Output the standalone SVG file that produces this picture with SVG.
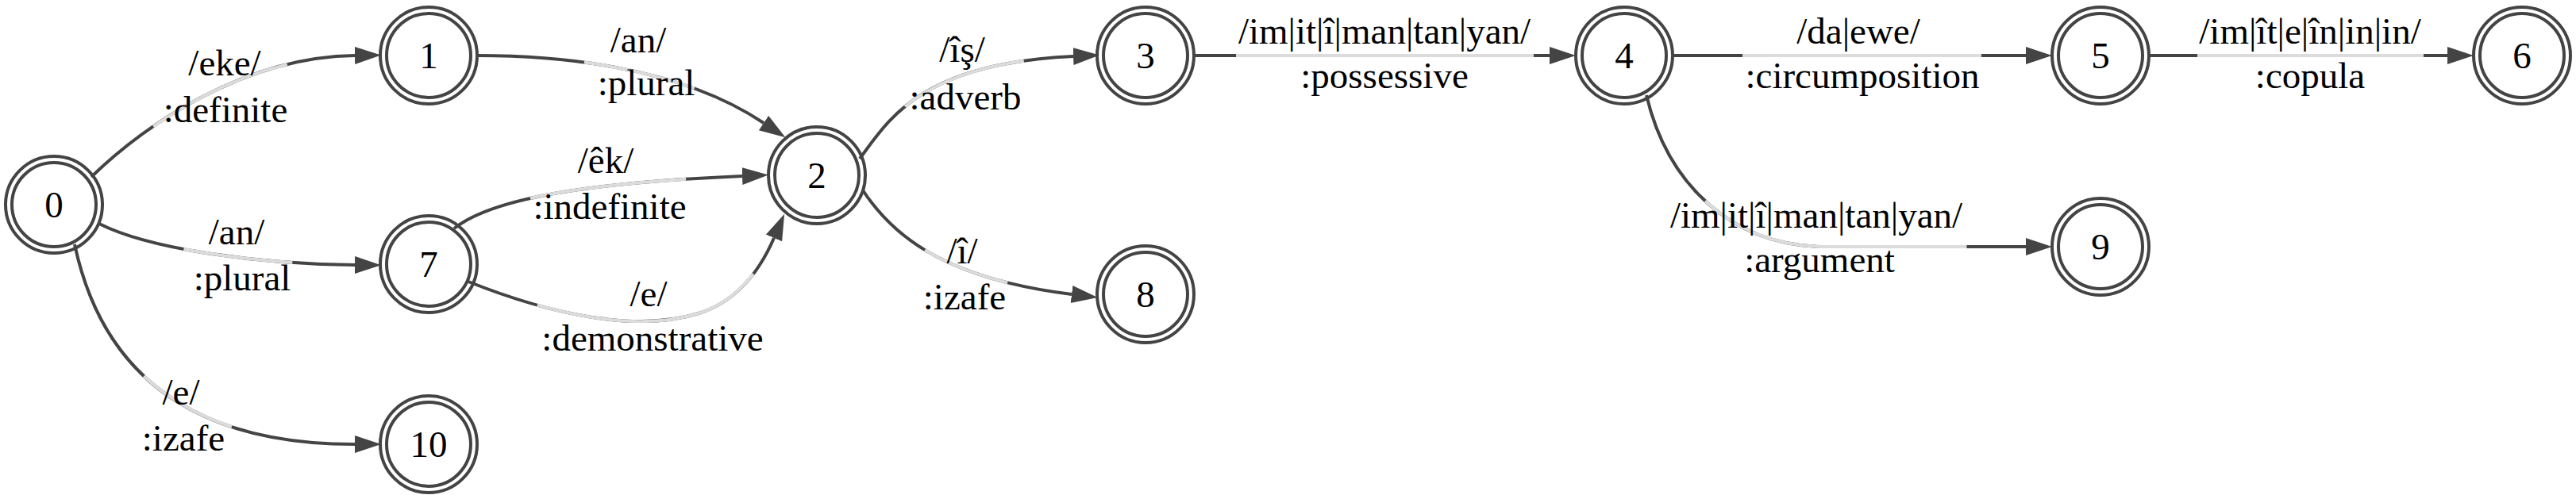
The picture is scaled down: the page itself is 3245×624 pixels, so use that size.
<svg xmlns="http://www.w3.org/2000/svg" width="3245" height="624" viewBox="0 0 3245 624">
<style>
.ring{fill:none;stroke:#444;stroke-width:4}
.bg{fill:#fff}
.nl{font-family:"Liberation Serif","Times New Roman",serif;font-size:47px;fill:#000;text-anchor:middle}
.el{font-family:"Liberation Serif","Times New Roman",serif;font-size:47px;fill:#000;text-anchor:middle}
.e{fill:none;stroke:#444;stroke-width:4}
.lt{fill:none;stroke:#dcdcdc;stroke-width:4}
</style>
<defs>
<marker id="arr" markerUnits="userSpaceOnUse" markerWidth="34" markerHeight="24" refX="0" refY="11" orient="auto" viewBox="0 0 34 24">
<path d="M0,0 L33,11 L0,22 z" fill="#444"/>
</marker>
</defs>
<rect width="3245" height="624" fill="#fff"/>
<g id="connectors">
<!-- 0->1 -->
<path class="e" d="M115,223 C175,165 300,72 447,70" marker-end="url(#arr)"/>
<path class="lt" pathLength="100" stroke-dasharray="0 27 50 100" d="M115,223 C175,165 300,72 447,70"/>
<!-- 0->7 -->
<path class="e" d="M125,282 C190,315 330,333 447,334" marker-end="url(#arr)"/>
<path class="lt" pathLength="100" stroke-dasharray="0 34 42 100" d="M125,282 C190,315 330,333 447,334"/>
<!-- 0->10 -->
<path class="e" d="M94,308 C120,430 200,560 447,560" marker-end="url(#arr)"/>
<path class="lt" pathLength="100" stroke-dasharray="0 40 27 100" d="M94,308 C120,430 200,560 447,560"/>
<!-- 1->2 -->
<path class="e" d="M601,70 C690,70 850,80 962,155" marker-end="url(#arr)"/>
<path class="lt" pathLength="100" stroke-dasharray="0 36 38 100" d="M601,70 C690,70 850,80 962,155"/>
<!-- 7->2 upper -->
<path class="e" d="M572,288 C610,258 700,232 935,222" marker-end="url(#arr)"/>
<path class="lt" pathLength="100" stroke-dasharray="0 28 53 100" d="M572,288 C610,258 700,232 935,222"/>
<!-- 7->2 lower -->
<path class="e" d="M590,355 C690,395 800,420 880,395 C935,378 962,330 975,300" marker-end="url(#arr)"/>
<path class="lt" pathLength="100" stroke-dasharray="0 21 67 100" d="M590,355 C690,395 800,420 880,395 C935,378 962,330 975,300"/>
<!-- 2->3 -->
<path class="e" d="M1083,200 C1120,150 1160,80 1352,71" marker-end="url(#arr)"/>
<path class="lt" pathLength="100" stroke-dasharray="0 28 52 100" d="M1083,200 C1120,150 1160,80 1352,71"/>
<!-- 2->8 -->
<path class="e" d="M1087,240 C1120,290 1180,350 1350,371" marker-end="url(#arr)"/>
<path class="lt" pathLength="100" stroke-dasharray="0 36 37 100" d="M1087,240 C1120,290 1180,350 1350,371"/>
<!-- 3->4 -->
<path class="e" d="M1504,70 L1952,70" marker-end="url(#arr)"/>
<path class="lt" d="M1557,70 L1932,70"/>
<!-- 4->5 -->
<path class="e" d="M2107,70 L2552,70" marker-end="url(#arr)"/>
<path class="lt" d="M2195,70 L2496,70"/>
<!-- 5->6 -->
<path class="e" d="M2707,70 L3083,70" marker-end="url(#arr)"/>
<path class="lt" d="M2768,70 L3053,70"/>
<!-- 4->9 -->
<path class="e" d="M2074,120 C2100,230 2180,311 2300,311 L2552,311" marker-end="url(#arr)"/>
<path class="lt" pathLength="100" stroke-dasharray="0 27 60 100" d="M2074,120 C2100,230 2180,311 2300,311 L2552,311"/>
</g>
<g id="edge-labels">
<text class="el" x="283" y="95">/eke/</text>
<text class="el" x="284" y="154">:definite</text>
<text class="el" x="298" y="308">/an/</text>
<text class="el" x="305" y="366">:plural</text>
<text class="el" x="228" y="510">/e/</text>
<text class="el" x="231" y="568">:izafe</text>
<text class="el" x="804" y="66">/an/</text>
<text class="el" x="814" y="120">:plural</text>
<text class="el" x="763" y="218">/êk/</text>
<text class="el" x="768" y="276">:indefinite</text>
<text class="el" x="817" y="386">/e/</text>
<text class="el" x="822" y="442">:demonstrative</text>
<text class="el" x="1212" y="78">/îş/</text>
<text class="el" x="1216" y="138">:adverb</text>
<text class="el" x="1212" y="332">/î/</text>
<text class="el" x="1215" y="390">:izafe</text>
<text class="el" x="1744" y="55">/im|it|î|man|tan|yan/</text>
<text class="el" x="1744" y="111">:possessive</text>
<text class="el" x="2341" y="55">/da|ewe/</text>
<text class="el" x="2346" y="111">:circumposition</text>
<text class="el" x="2910" y="55">/im|ît|e|în|in|in/</text>
<text class="el" x="2910" y="111">:copula</text>
<text class="el" x="2288" y="287">/im|it|î|man|tan|yan/</text>
<text class="el" x="2292" y="343">:argument</text>
</g>
<g id="node0"><circle class="ring" cx="68" cy="258" r="61"/><circle class="ring" cx="68" cy="258" r="53"/><text class="nl" x="68" y="274">0</text></g>
<g id="node1"><circle class="ring" cx="540" cy="70" r="61"/><circle class="ring" cx="540" cy="70" r="53"/><text class="nl" x="540" y="86">1</text></g>
<g id="node7"><circle class="ring" cx="540" cy="333" r="61"/><circle class="ring" cx="540" cy="333" r="53"/><text class="nl" x="540" y="349">7</text></g>
<g id="node10"><circle class="ring" cx="540" cy="560" r="61"/><circle class="ring" cx="540" cy="560" r="53"/><text class="nl" x="540" y="576">10</text></g>
<g id="node2"><circle class="ring" cx="1029" cy="221" r="61"/><circle class="ring" cx="1029" cy="221" r="53"/><text class="nl" x="1029" y="237">2</text></g>
<g id="node3"><circle class="ring" cx="1443" cy="70" r="61"/><circle class="ring" cx="1443" cy="70" r="53"/><text class="nl" x="1443" y="86">3</text></g>
<g id="node8"><circle class="ring" cx="1443" cy="371" r="61"/><circle class="ring" cx="1443" cy="371" r="53"/><text class="nl" x="1443" y="387">8</text></g>
<g id="node4"><circle class="ring" cx="2046" cy="70" r="61"/><circle class="ring" cx="2046" cy="70" r="53"/><text class="nl" x="2046" y="86">4</text></g>
<g id="node5"><circle class="ring" cx="2646" cy="70" r="61"/><circle class="ring" cx="2646" cy="70" r="53"/><text class="nl" x="2646" y="86">5</text></g>
<g id="node9"><circle class="ring" cx="2646" cy="311" r="61"/><circle class="ring" cx="2646" cy="311" r="53"/><text class="nl" x="2646" y="327">9</text></g>
<g id="node6"><circle class="ring" cx="3177" cy="70" r="61"/><circle class="ring" cx="3177" cy="70" r="53"/><text class="nl" x="3177" y="86">6</text></g>
</svg>
